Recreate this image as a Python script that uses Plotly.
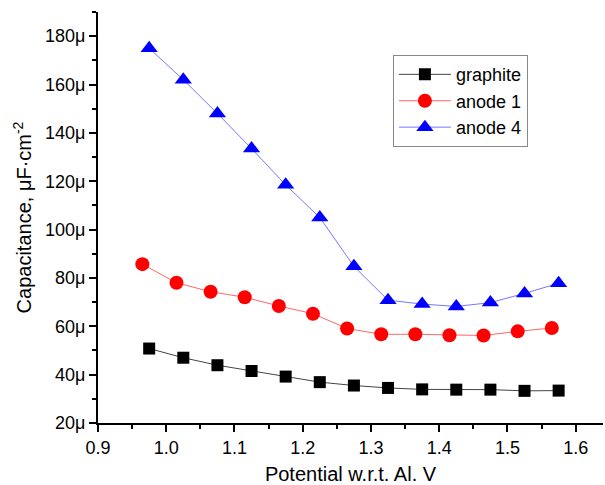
import plotly.graph_objects as go

x_graphite = [0.975, 1.025, 1.075, 1.125, 1.175, 1.225, 1.275, 1.325, 1.375, 1.425, 1.475, 1.525, 1.575]
y_graphite = [50.8, 47.0, 43.9, 41.5, 39.2, 36.9, 35.5, 34.5, 33.9, 33.8, 33.8, 33.3, 33.4]

x_anode1 = [0.965, 1.015, 1.065, 1.115, 1.165, 1.215, 1.265, 1.315, 1.365, 1.415, 1.465, 1.515, 1.565]
y_anode1 = [85.7, 78.0, 74.3, 72.0, 68.4, 65.2, 59.1, 56.7, 56.7, 56.3, 56.2, 57.9, 59.3]

x_anode4 = [0.975, 1.025, 1.075, 1.125, 1.175, 1.225, 1.275, 1.325, 1.375, 1.425, 1.475, 1.525, 1.575]
y_anode4 = [175.0, 162.0, 148.0, 133.5, 118.5, 105.0, 84.8, 70.8, 69.2, 68.2, 69.8, 73.6, 77.8]

y_ticks = [20, 40, 60, 80, 100, 120, 140, 160, 180]
y_ticktext = [f"{v}μ" for v in y_ticks]
x_ticks = [0.9, 1.0, 1.1, 1.2, 1.3, 1.4, 1.5, 1.6]
x_ticktext = ["0.9", "1.0", "1.1", "1.2", "1.3", "1.4", "1.5", "1.6"]

fig = go.Figure()
fig.add_trace(go.Scatter(x=x_graphite, y=y_graphite, mode="lines+markers", name="graphite",
                         line=dict(color="#444444", width=1),
                         marker=dict(symbol="square", size=12, color="black")))
fig.add_trace(go.Scatter(x=x_anode1, y=y_anode1, mode="lines+markers", name="anode 1",
                         line=dict(color="#ff6666", width=1),
                         marker=dict(symbol="circle", size=14, color="#ff0000")))
fig.add_trace(go.Scatter(x=x_anode4, y=y_anode4, mode="lines+markers", name="anode 4",
                         line=dict(color="#7777ff", width=1),
                         marker=dict(symbol="triangle-up", size=15, color="#0000ff")))

font_family = "Liberation Sans, Arial, sans-serif"
fig.update_layout(
    width=605, height=485,
    margin=dict(l=98, r=2, t=12, b=62),
    plot_bgcolor="white", paper_bgcolor="white",
    font=dict(family=font_family, color="black", size=18),
    legend=dict(x=0.584, y=0.895, xanchor="left", yanchor="top",
                bordercolor="#888888", borderwidth=1, bgcolor="white",
                font=dict(size=18), tracegroupgap=0, itemwidth=52),
    showlegend=True,
)
fig.update_xaxes(range=[0.9, 1.64], tickvals=x_ticks, ticktext=x_ticktext,
                 automargin=False,
                 showgrid=False, zeroline=False, showline=True, linecolor="black", linewidth=2,
                 ticks="outside", ticklen=7, tickwidth=2, tickcolor="black",
                 minor=dict(dtick=0.05, tick0=0.9, ticks="outside", ticklen=4, tickwidth=2, tickcolor="black"),
                 tickfont=dict(size=18),
                 title=dict(text="Potential w.r.t. Al. V", font=dict(size=20), standoff=12))
fig.update_yaxes(range=[20, 190], tickvals=y_ticks, ticktext=y_ticktext,
                 automargin=False,
                 showgrid=False, zeroline=False, showline=True, linecolor="black", linewidth=2,
                 ticks="outside", ticklen=7, tickwidth=2, tickcolor="black",
                 minor=dict(dtick=10, tick0=20, ticks="outside", ticklen=4, tickwidth=2, tickcolor="black"),
                 tickfont=dict(size=18),
                 title=dict(text="Capacitance, μF·cm<sup>-2</sup>", font=dict(size=20), standoff=8))

fig.write_html("out.html")
